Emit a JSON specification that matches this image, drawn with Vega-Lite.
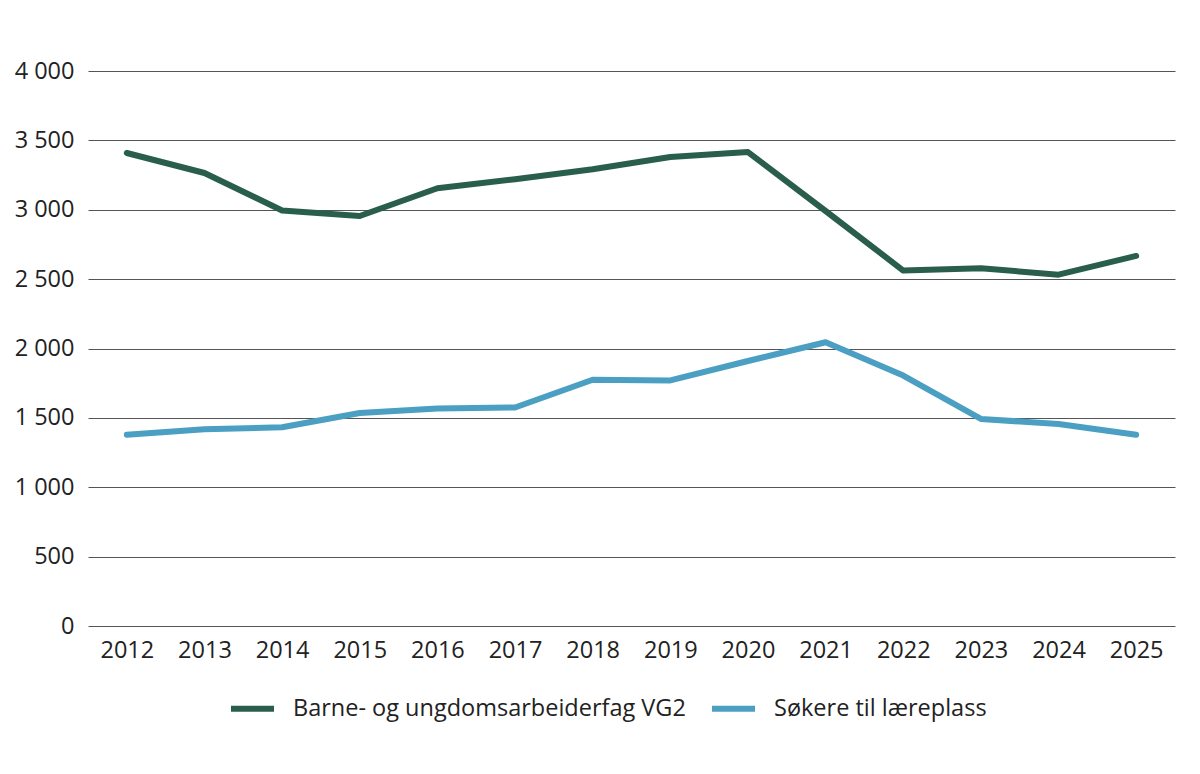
{
  "$schema": "https://vega.github.io/schema/vega-lite/v6.json",
  "width": 1087,
  "height": 555,
  "autosize": {"type": "none"},
  "padding": {"left": 88, "top": 71, "right": 25, "bottom": 148},
  "background": "white",
  "config": {
    "font": "Open Sans",
    "view": {"stroke": null}
  },
  "data": {
    "values": [
      {"year": "2012", "serie": "Barne- og ungdomsarbeiderfag VG2", "value": 3409},
      {"year": "2013", "serie": "Barne- og ungdomsarbeiderfag VG2", "value": 3265},
      {"year": "2014", "serie": "Barne- og ungdomsarbeiderfag VG2", "value": 2995},
      {"year": "2015", "serie": "Barne- og ungdomsarbeiderfag VG2", "value": 2955},
      {"year": "2016", "serie": "Barne- og ungdomsarbeiderfag VG2", "value": 3155},
      {"year": "2017", "serie": "Barne- og ungdomsarbeiderfag VG2", "value": 3220},
      {"year": "2018", "serie": "Barne- og ungdomsarbeiderfag VG2", "value": 3292},
      {"year": "2019", "serie": "Barne- og ungdomsarbeiderfag VG2", "value": 3380},
      {"year": "2020", "serie": "Barne- og ungdomsarbeiderfag VG2", "value": 3416},
      {"year": "2021", "serie": "Barne- og ungdomsarbeiderfag VG2", "value": 2991},
      {"year": "2022", "serie": "Barne- og ungdomsarbeiderfag VG2", "value": 2562},
      {"year": "2023", "serie": "Barne- og ungdomsarbeiderfag VG2", "value": 2578},
      {"year": "2024", "serie": "Barne- og ungdomsarbeiderfag VG2", "value": 2532},
      {"year": "2025", "serie": "Barne- og ungdomsarbeiderfag VG2", "value": 2667},
      {"year": "2012", "serie": "Søkere til læreplass", "value": 1378},
      {"year": "2013", "serie": "Søkere til læreplass", "value": 1418},
      {"year": "2014", "serie": "Søkere til læreplass", "value": 1432},
      {"year": "2015", "serie": "Søkere til læreplass", "value": 1535},
      {"year": "2016", "serie": "Søkere til læreplass", "value": 1568},
      {"year": "2017", "serie": "Søkere til læreplass", "value": 1575},
      {"year": "2018", "serie": "Søkere til læreplass", "value": 1775},
      {"year": "2019", "serie": "Søkere til læreplass", "value": 1770},
      {"year": "2020", "serie": "Søkere til læreplass", "value": 1910},
      {"year": "2021", "serie": "Søkere til læreplass", "value": 2045},
      {"year": "2022", "serie": "Søkere til læreplass", "value": 1805},
      {"year": "2023", "serie": "Søkere til læreplass", "value": 1492},
      {"year": "2024", "serie": "Søkere til læreplass", "value": 1456},
      {"year": "2025", "serie": "Søkere til læreplass", "value": 1378}
    ]
  },
  "mark": {"type": "line", "strokeWidth": 6, "strokeCap": "round", "strokeJoin": "round"},
  "encoding": {
    "x": {
      "field": "year",
      "type": "ordinal",
      "scale": {"type": "point", "padding": 0.5},
      "axis": {
        "title": null,
        "labelAngle": 0,
        "labelFontSize": 23.5,
        "labelColor": "#222",
        "labelPadding": 12,
        "ticks": false,
        "domain": false,
        "grid": false
      }
    },
    "y": {
      "field": "value",
      "type": "quantitative",
      "scale": {"domain": [0, 4000]},
      "axis": {
        "title": null,
        "values": [0, 500, 1000, 1500, 2000, 2500, 3000, 3500, 4000],
        "format": ",d",
        "labelExpr": "replace(datum.label, ',', ' ')",
        "labelFontSize": 23.5,
        "labelColor": "#222",
        "labelPadding": 14,
        "ticks": false,
        "domain": false,
        "grid": true,
        "gridColor": "#555",
        "gridWidth": 1.2
      }
    },
    "color": {
      "field": "serie",
      "type": "nominal",
      "scale": {
        "domain": ["Barne- og ungdomsarbeiderfag VG2", "Søkere til læreplass"],
        "range": ["#2a5e4c", "#4a9fc2"]
      },
      "legend": {
        "title": null,
        "orient": "none",
        "legendX": 140,
        "legendY": 613,
        "direction": "horizontal",
        "symbolType": "stroke",
        "symbolSize": 1849,
        "symbolStrokeWidth": 6,
        "labelFontSize": 23.5,
        "labelColor": "#222",
        "labelLimit": 600,
        "columnPadding": 14,
        "labelOffset": 16
      }
    }
  }
}
